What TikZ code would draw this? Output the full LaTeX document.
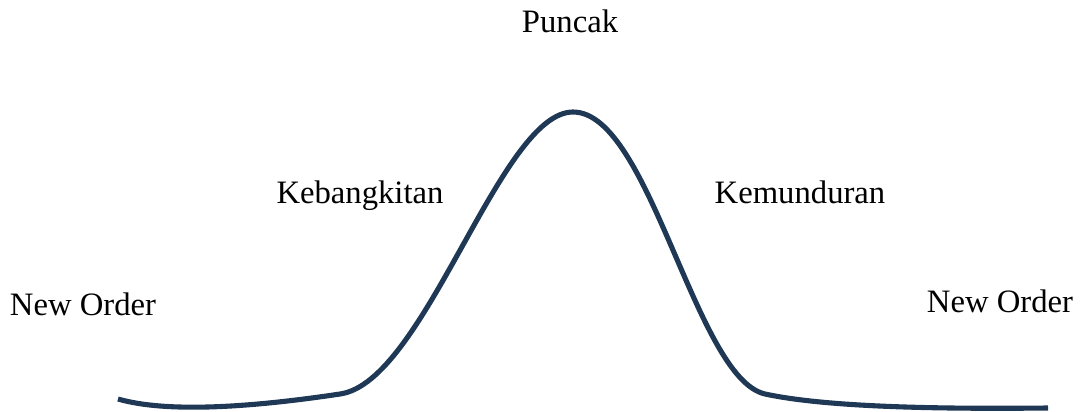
\documentclass[tikz,border=0pt]{standalone}
\usepackage{fontspec}
\setmainfont{Liberation Serif}
\definecolor{kurva}{HTML}{1F3855}
\begin{document}
\begin{tikzpicture}[x=0.02cm,y=-0.02cm,
  label text/.style={anchor=base, inner sep=0pt, font=\fontsize{18.6}{21}\selectfont}]
  % Batas gambar
  \useasboundingbox (0,0) rectangle (1085,412);
  % Kurva siklus
  \draw[kurva, line width=2.9pt, line cap=butt]
    (118,399) .. controls (170,414) and (260,406) .. (340,394)
    .. controls (425,382) and (500,112) .. (573,112)
    .. controls (650,112) and (695,378) .. (765,394)
    .. controls (830,408) and (950,409) .. (1048,408);
  % Label
  \node[label text] (puncak) at (570,33) {Puncak};
  \node[label text] (bangkit) at (360,203) {Kebangkitan};
  \node[label text] (mundur) at (800,203) {Kemunduran};
  \node[label text] (orde kiri) at (83,315) {New Order};
  \node[label text] (orde kanan) at (1000,312) {New Order};
\end{tikzpicture}
\end{document}
